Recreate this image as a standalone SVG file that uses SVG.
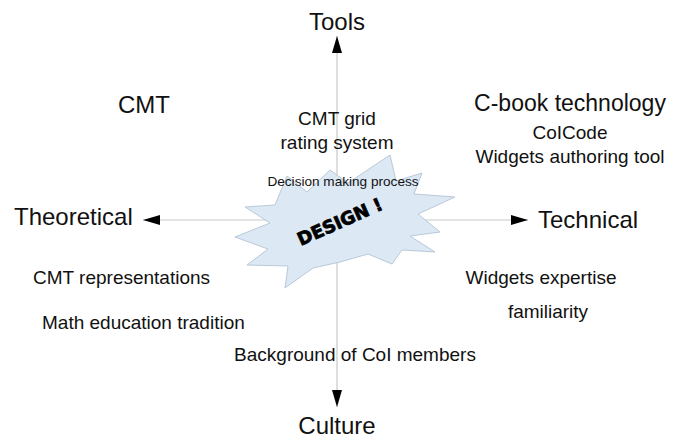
<svg xmlns="http://www.w3.org/2000/svg" width="676" height="442" viewBox="0 0 676 442">
<style>
text{font-family:"Liberation Sans",Arial,sans-serif;fill:#111}
.ax{font-size:24px}
.lb{font-size:19px}
.axis{stroke:#c8c8c8;stroke-width:1.2;fill:none}
</style>
<defs>
<marker id="ah" viewBox="0 0 17 10" refX="17" refY="5" markerWidth="17" markerHeight="10" markerUnits="userSpaceOnUse" orient="auto"><path d="M0,0 L17,5 L0,10 Z" fill="#000"/></marker>
</defs>
<rect width="676" height="442" fill="#fff"/>
<g id="connectors">
<line class="axis" x1="337" y1="220" x2="337" y2="36" marker-end="url(#ah)"/>
<line class="axis" x1="337" y1="220" x2="337" y2="407" marker-end="url(#ah)"/>
<line class="axis" x1="337" y1="220" x2="143" y2="220" marker-end="url(#ah)"/>
<line class="axis" x1="337" y1="220" x2="528" y2="220" marker-end="url(#ah)"/>
</g>
<g id="design">
<polygon points="245,207 275,205 287,176 307,192 330,170 348,183 390,155 396,181 422,173 414,194 455,197 418,214 440,232 410,236 435,252 402,250 392,264 368,254 340,262 313,268 285,288 288,266 247,265 268,249 235,237 270,223" fill="#dce8f4" stroke="#b9c9d9" stroke-width="1"/>
<text x="340" y="228" text-anchor="middle" font-size="18" font-weight="bold" transform="rotate(-24 340 222)" style="font-family:'DejaVu Sans',sans-serif;fill:#000;stroke:#000;stroke-width:0.8">DESIGN !</text>
</g>
<g id="tools"><text class="ax" x="337" y="30" text-anchor="middle">Tools</text></g>
<g id="culture"><text class="ax" x="337" y="434" text-anchor="middle">Culture</text></g>
<g id="theoretical"><text class="ax" x="14" y="225">Theoretical</text></g>
<g id="technical"><text class="ax" x="538" y="228">Technical</text></g>
<g id="cmt"><text x="144" y="113" text-anchor="middle" font-size="24">CMT</text></g>
<g id="cbook"><text x="570" y="111" text-anchor="middle" font-size="23">C-book technology</text></g>
<g id="cmtgrid"><text class="lb" x="337" y="125" text-anchor="middle">CMT grid</text><text class="lb" x="337" y="149" text-anchor="middle">rating system</text></g>
<g id="colcode"><text class="lb" x="570" y="139" text-anchor="middle">CoICode</text><text class="lb" x="570" y="163" text-anchor="middle">Widgets authoring tool</text></g>
<g id="decision"><text x="343" y="186" text-anchor="middle" font-size="13.6">Decision making process</text></g>
<g id="cmtrep"><text class="lb" x="33" y="284">CMT representations</text></g>
<g id="math"><text class="lb" x="42" y="329">Math education tradition</text></g>
<g id="widgets"><text class="lb" x="541" y="284" text-anchor="middle">Widgets expertise</text></g>
<g id="familiarity"><text class="lb" x="548" y="318" text-anchor="middle">familiarity</text></g>
<g id="background"><text class="lb" x="355" y="361" text-anchor="middle">Background of CoI members</text></g>
</svg>
